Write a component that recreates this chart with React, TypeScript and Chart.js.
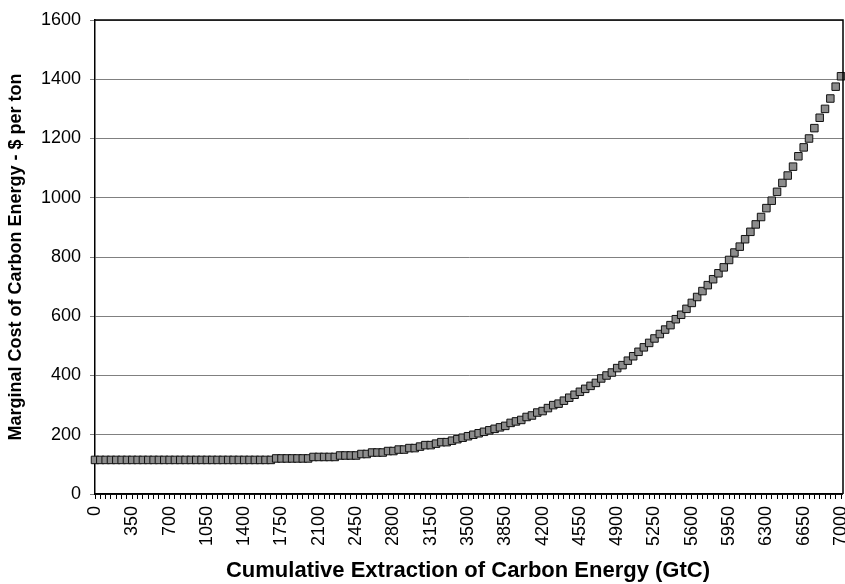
import React, { useEffect, useRef } from "react";
import { Chart, registerables } from "chart.js";

Chart.register(...registerables);

// Cumulative extraction of carbon energy (GtC), one category every 50 GtC
const extraction: string[] = Array.from({ length: 141 }, (_, i) => String(i * 50));

// Marginal cost of carbon energy, $ per ton
const marginalCost: number[] = [
  115, 115, 115, 115, 115, 115, 115, 115, 115, 115,
  115, 115, 115, 115, 115, 115, 115, 115, 115, 115,
  115, 115, 115, 115, 115, 115, 115, 115, 115, 115,
  115, 115, 115, 115, 120, 120, 120, 120, 120, 120,
  120, 125, 125, 125, 125, 125, 130, 130, 130, 130,
  135, 135, 140, 140, 140, 145, 145, 150, 150, 155,
  155, 160, 165, 165, 170, 175, 175, 180, 185, 190,
  195, 200, 205, 210, 215, 220, 225, 230, 240, 245,
  250, 260, 265, 275, 280, 290, 300, 305, 315, 325,
  335, 345, 355, 365, 375, 390, 400, 410, 425, 435,
  450, 465, 480, 495, 510, 525, 540, 555, 570, 590,
  605, 625, 645, 665, 685, 705, 725, 745, 765, 790,
  815, 835, 860, 885, 910, 935, 965, 990, 1020, 1050,
  1075, 1105, 1140, 1170, 1200, 1235, 1270, 1300, 1335, 1375,
  1410,
];

const yTitle = "Marginal Cost of Carbon Energy - $ per ton";
const xTitle = "Cumulative Extraction of Carbon Energy (GtC)";
const labelEvery = 7;

const FONT = "'Liberation Sans', Arial, Helvetica, sans-serif";

export default function App() {
  const ref = useRef<HTMLCanvasElement | null>(null);

  useEffect(() => {
    if (!ref.current) return;
    const borderPlugin = {
      id: "plotBorder",
      afterLayout(chart: any) {
        const xs = chart.scales.x;
        const target = 843;
        const extra = target - chart.chartArea.right;
        if (extra > 0) {
          chart.chartArea.right += extra;
          chart.chartArea.width += extra;
          xs.right += extra - 2;
          xs.width += extra - 2;
          xs.configure();
        }
      },
      afterDraw(chart: any) {
        const { ctx, chartArea } = chart;
        ctx.save();
        ctx.strokeStyle = "#000";
        ctx.lineWidth = 1.5;
        ctx.beginPath();
        ctx.moveTo(chartArea.left, chartArea.bottom);
        ctx.lineTo(chartArea.right, chartArea.bottom);
        ctx.moveTo(chartArea.left, chartArea.top);
        ctx.lineTo(chartArea.right, chartArea.top);
        ctx.lineTo(chartArea.right, chartArea.bottom);
        ctx.stroke();
        ctx.restore();
      },
    };
    const chart = new Chart(ref.current, {
      type: "line",
      data: {
        labels: extraction,
        datasets: [
          {
            data: marginalCost,
            showLine: false,
            pointStyle: "rect",
            pointRadius: 5.3,
            pointBackgroundColor: "#8c8c8c",
            pointBorderColor: "#111",
            pointBorderWidth: 1,
          },
        ],
      },
      options: {
        responsive: false,
        animation: false,
        layout: { padding: { left: 5, top: 20, right: 1, bottom: 0 } },
        plugins: {
          legend: { display: false },
          tooltip: { enabled: false },
        },
        scales: {
          x: {
            type: "category",
            offset: false,
            border: { color: "#000", width: 1.5 },
            grid: {
              drawOnChartArea: false,
              drawTicks: true,
              tickLength: 5,
              color: "#000",
            },
            ticks: {
              autoSkip: false,
              maxRotation: 90,
              minRotation: 90,
              padding: 7,
              color: "#000",
              font: { family: FONT, size: 18 },
              callback: (_v: any, i: number) =>
                i % labelEvery === 0 ? extraction[i] : "",
            },
            title: {
              display: true,
              text: xTitle,
              color: "#000",
              font: { family: FONT, size: 22, weight: "bold" },
              padding: { top: 3, bottom: 0 },
            },
            afterFit: (scale: any) => {
              scale.height = 90;
              scale.paddingLeft = 0;
              scale.paddingRight = 0;
            },
          },
          y: {
            min: 0,
            max: 1600,
            border: { color: "#000", width: 1.5 },
            grid: {
              color: "#808080",
              lineWidth: 1,
              tickLength: 5,
            },
            ticks: {
              stepSize: 200,
              padding: 9,
              color: "#000",
              font: { family: FONT, size: 18 },
              callback: (v: any) => String(v),
            },
            title: {
              display: true,
              text: yTitle,
              color: "#000",
              font: { family: FONT, size: 18, weight: "bold" },
              padding: { top: 0, bottom: 0 },
            },
            afterFit: (scale: any) => {
              scale.width = 90;
            },
          },
        },
      },
      plugins: [borderPlugin],
    });
    return () => chart.destroy();
  }, []);

  return (
    <div style={{ position: "absolute", left: 0, top: 0, width: 845, height: 584, background: "#fff" }}>
      <canvas ref={ref} width={845} height={584} />
    </div>
  );
}
